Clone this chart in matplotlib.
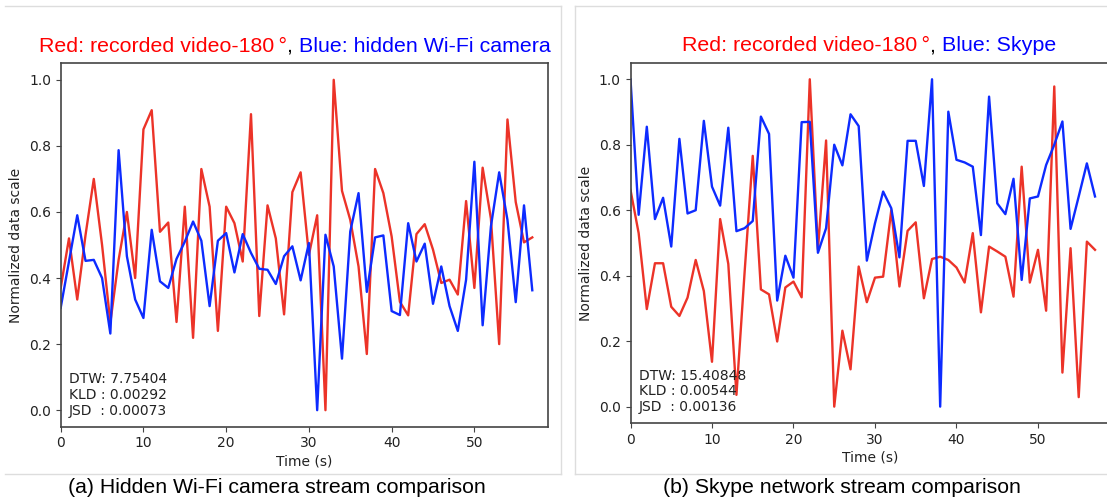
import matplotlib
matplotlib.use("Agg")
import matplotlib.pyplot as plt
from matplotlib.lines import Line2D

W, H = 1107, 498

# ---- data ----
time_s = list(range(58))

wifi_red = [0.37, 0.52, 0.335, 0.53, 0.70, 0.50, 0.265, 0.455, 0.60, 0.40,
            0.85, 0.908, 0.54, 0.568, 0.267, 0.616, 0.219, 0.73, 0.616, 0.24,
            0.616, 0.566, 0.45, 0.896, 0.285, 0.62, 0.52, 0.29, 0.66, 0.72,
            0.47, 0.59, 0.0, 1.0, 0.664, 0.576, 0.435, 0.17, 0.73, 0.657,
            0.526, 0.328, 0.287, 0.533, 0.563, 0.486, 0.385, 0.395, 0.35, 0.633,
            0.37, 0.734, 0.58, 0.20, 0.88, 0.63, 0.508, 0.523]
wifi_blue = [0.31, 0.45, 0.59, 0.452, 0.455, 0.40, 0.232, 0.787, 0.466, 0.335,
             0.279, 0.546, 0.39, 0.37, 0.458, 0.51, 0.571, 0.513, 0.315, 0.513,
             0.536, 0.417, 0.533, 0.476, 0.428, 0.425, 0.382, 0.466, 0.496, 0.393,
             0.506, 0.0, 0.531, 0.435, 0.156, 0.541, 0.657, 0.358, 0.523, 0.529,
             0.30, 0.288, 0.566, 0.45, 0.504, 0.322, 0.435, 0.315, 0.24, 0.395,
             0.752, 0.257, 0.556, 0.72, 0.576, 0.327, 0.62, 0.363]

skype_red = [0.662, 0.53, 0.298, 0.438, 0.438, 0.305, 0.277, 0.333, 0.448, 0.353,
             0.137, 0.573, 0.436, 0.036, 0.41, 0.766, 0.358, 0.343, 0.199, 0.364,
             0.382, 0.334, 1.0, 0.48, 0.813, 0.0, 0.232, 0.114, 0.428, 0.319,
             0.394, 0.397, 0.60, 0.367, 0.537, 0.563, 0.331, 0.451, 0.458, 0.448,
             0.425, 0.379, 0.53, 0.288, 0.489, 0.474, 0.458, 0.336, 0.733, 0.379,
             0.479, 0.293, 0.978, 0.104, 0.484, 0.029, 0.504, 0.479]
skype_blue = [1.0, 0.586, 0.855, 0.573, 0.638, 0.489, 0.818, 0.59, 0.60, 0.873,
              0.672, 0.614, 0.852, 0.536, 0.545, 0.567, 0.886, 0.833, 0.324, 0.461,
              0.394, 0.869, 0.87, 0.47, 0.545, 0.80, 0.737, 0.893, 0.857, 0.446,
              0.56, 0.657, 0.606, 0.456, 0.812, 0.812, 0.674, 1.0, 0.0, 0.901,
              0.754, 0.746, 0.733, 0.524, 0.947, 0.621, 0.588, 0.696, 0.387, 0.636,
              0.642, 0.738, 0.80, 0.871, 0.543, 0.642, 0.743, 0.642]

wifi_stats = "DTW: 7.75404\nKLD : 0.00292\nJSD  : 0.00073"
skype_stats = "DTW: 15.40848\nKLD : 0.00544\nJSD  : 0.00136"

blue_names = ["hidden Wi-Fi camera", "Skype"]
captions = ["(a) Hidden Wi-Fi camera stream comparison",
            "(b) Skype network stream comparison"]

RED = "#ec3328"
BLUE = "#0d2bff"

fig = plt.figure(figsize=(W / 100, H / 100), dpi=100)

# axes rectangles in pixels: (left, top, right, bottom)
rects = [(60.7, 63.3, 548.0, 426.7), (630.5, 62.9, 1110.5, 423.0)]
series = [(wifi_red, wifi_blue, wifi_stats), (skype_red, skype_blue, skype_stats)]

axes = []
for (l, t, r, b), (red, blue, stats) in zip(rects, series):
    ax = fig.add_axes([l / W, (H - b) / H, (r - l) / W, (b - t) / H])
    ax.plot(time_s, red, color=RED, lw=1.7)
    ax.plot(time_s, blue, color=BLUE, lw=1.7)
    ax.set_xlim(0, 58.9)
    ax.set_ylim(-0.05, 1.05)
    ax.set_xticks([0, 10, 20, 30, 40, 50])
    ax.set_yticks([0.0, 0.2, 0.4, 0.6, 0.8, 1.0])
    ax.set_xlabel("Time (s)", fontsize=10, color="#222222", labelpad=3)
    ax.set_ylabel("Normalized data scale", fontsize=10, color="#222222")
    ax.tick_params(labelsize=10, labelcolor="#222222", color="#444444")
    for sp in ax.spines.values():
        sp.set_color("#444444")
        sp.set_linewidth(1.2)
    ax.text(0.017, 0.025, stats, transform=ax.transAxes, fontsize=10,
            color="#222222", va="bottom", ha="left", linespacing=1.15)
    axes.append(ax)

# light grey panel frames
frame = dict(color="#dddddd", lw=1.0)
for seg in [((5, 561), (6, 6)), ((561, 561), (6, 474)), ((5, 561), (474, 474)),
            ((575, 1107), (6, 6)), ((575, 575), (6, 474)), ((575, 1107), (474, 474))]:
    xs, ys = seg
    fig.add_artist(Line2D([x / W for x in xs], [(H - y) / H for y in ys],
                          transform=fig.transFigure, **frame))

# multi-coloured titles
fig.canvas.draw()
renderer = fig.canvas.get_renderer()
title_font = dict(family=["Liberation Sans", "DejaVu Sans"], fontsize=15.4)
title_starts = [(39, 51.5), (682, 51.0)]
for (x0, base), name in zip(title_starts, blue_names):
    x = x0
    for piece, col in [("Red: recorded video-180\u2009\u00b0", "#ff0000"), (", ", "black"),
                       ("Blue: " + name, "#0000ff")]:
        t = fig.text(x / W, (H - base) / H, piece, color=col, ha="left",
                     va="baseline", **title_font)
        x += t.get_window_extent(renderer).width

# captions
for cx, cap in zip([277, 842], captions):
    fig.text(cx / W, (H - 493) / H, cap, ha="center", va="baseline",
             family=["Liberation Sans", "DejaVu Sans"], fontsize=15.3, color="black")

fig.savefig("out.png", dpi=100)
